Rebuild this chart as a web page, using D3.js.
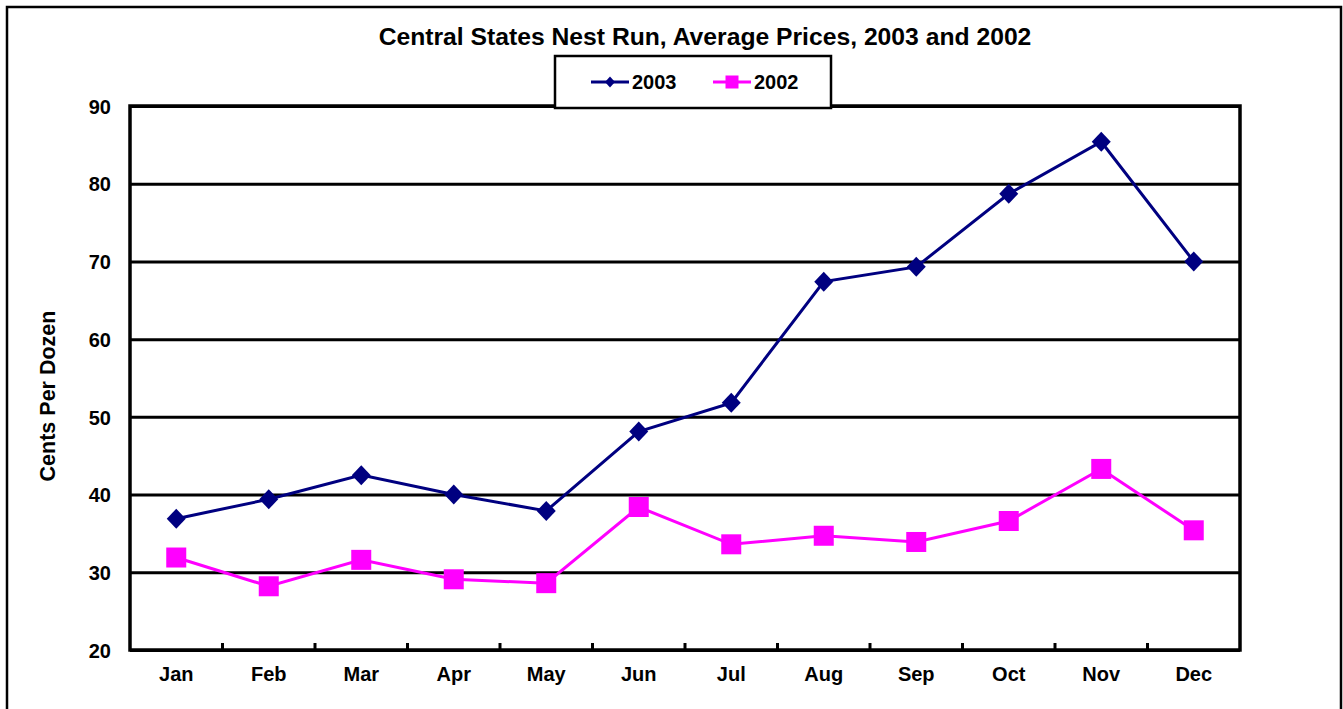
<!DOCTYPE html>
<html>
<head>
<meta charset="utf-8">
<script src="https://cdn.jsdelivr.net/npm/d3@7"></script>
<style>
  body { margin: 0; background: #fff; }
  svg text { font-family: "Liberation Sans", Arial, sans-serif; font-weight: bold; fill: #000; }
</style>
</head>
<body>
<div id="chart"></div>
<script>
var months = ["Jan","Feb","Mar","Apr","May","Jun","Jul","Aug","Sep","Oct","Nov","Dec"];
var prices2003 = [36.9, 39.4, 42.5, 40.0, 37.9, 48.1, 51.8, 67.4, 69.3, 78.7, 85.4, 70.0];
var prices2002 = [31.9, 28.2, 31.6, 29.1, 28.6, 38.4, 33.6, 34.7, 33.9, 36.6, 43.3, 35.4];
var yTicks = [20, 30, 40, 50, 60, 70, 80, 90];

var W = 1343, H = 709;
var margin = {top: 106, right: 103, bottom: 59, left: 130};
var pw = W - margin.left - margin.right;   // 1110
var ph = H - margin.top - margin.bottom;   // 544

var svg = d3.select("#chart").append("svg")
    .attr("width", W)
    .attr("height", H);

// outer frame (bottom edge runs off the picture)
svg.append("rect")
    .attr("x", 7).attr("y", 7)
    .attr("width", 1334).attr("height", 720)
    .attr("fill", "none")
    .attr("stroke", "#000")
    .attr("stroke-width", 2.5);

svg.append("text")
    .attr("x", 705).attr("y", 45)
    .attr("text-anchor", "middle")
    .style("font-size", "24.7px")
    .text("Central States Nest Run, Average Prices, 2003 and 2002");

var x = d3.scaleBand().domain(months).range([0, pw]);
var y = d3.scaleLinear().domain([20, 90]).range([ph, 0]);
var cx = function (m) { return x(m) + x.bandwidth() / 2; };

var g = svg.append("g")
    .attr("transform", "translate(" + margin.left + "," + margin.top + ")");

// gridlines
var grid = g.append("g")
    .call(d3.axisLeft(y).tickValues(yTicks).tickSize(-pw).tickFormat(""));
grid.select(".domain").remove();
grid.selectAll("line").attr("stroke", "#000").attr("stroke-width", 3);

// plot frame
g.append("rect")
    .attr("width", pw).attr("height", ph)
    .attr("fill", "none")
    .attr("stroke", "#000")
    .attr("stroke-width", 3.5);

// y labels
var yax = g.append("g")
    .call(d3.axisLeft(y).tickValues(yTicks).tickSize(0).tickPadding(19));
yax.select(".domain").remove();
yax.selectAll("text")
    .style("font-size", "20px")
    .style("font-family", "Liberation Sans, Arial, sans-serif")
    .attr("dy", "0.36em");

// x labels
var xax = g.append("g")
    .attr("transform", "translate(0," + ph + ")")
    .call(d3.axisBottom(x).tickSize(0).tickPadding(17));
xax.select(".domain").remove();
xax.selectAll("text")
    .style("font-size", "20px")
    .style("font-family", "Liberation Sans, Arial, sans-serif");

// inner ticks between categories
g.append("g").selectAll("line")
    .data(months.slice(1))
    .enter().append("line")
    .attr("x1", function (m) { return x(m); })
    .attr("x2", function (m) { return x(m); })
    .attr("y1", ph).attr("y2", ph - 7)
    .attr("stroke", "#000")
    .attr("stroke-width", 3);

svg.append("text")
    .attr("transform", "translate(55,396) rotate(-90)")
    .attr("text-anchor", "middle")
    .style("font-size", "21.5px")
    .text("Cents Per Dozen");

var line = d3.line()
    .x(function (d, i) { return cx(months[i]); })
    .y(function (d) { return y(d); });

var diamond = "M0,-10L9.5,0L0,10L-9.5,0Z";

// 2003 series
g.append("path")
    .datum(prices2003)
    .attr("d", line)
    .attr("fill", "none")
    .attr("stroke", "#000080")
    .attr("stroke-width", 3);
g.append("g").selectAll("path")
    .data(prices2003)
    .enter().append("path")
    .attr("d", diamond)
    .attr("transform", function (d, i) { return "translate(" + cx(months[i]) + "," + y(d) + ")"; })
    .attr("fill", "#000080");

// 2002 series
g.append("path")
    .datum(prices2002)
    .attr("d", line)
    .attr("fill", "none")
    .attr("stroke", "#FF00FF")
    .attr("stroke-width", 3);
g.append("g").selectAll("rect")
    .data(prices2002)
    .enter().append("rect")
    .attr("x", function (d, i) { return cx(months[i]) - 10; })
    .attr("y", function (d) { return y(d) - 10; })
    .attr("width", 20).attr("height", 20)
    .attr("fill", "#FF00FF");

// legend
var lg = svg.append("g");
lg.append("rect")
    .attr("x", 555).attr("y", 56)
    .attr("width", 276).attr("height", 52)
    .attr("fill", "#fff")
    .attr("stroke", "#000")
    .attr("stroke-width", 2.5);
lg.append("line")
    .attr("x1", 591).attr("x2", 629).attr("y1", 82).attr("y2", 82)
    .attr("stroke", "#000080").attr("stroke-width", 3);
lg.append("path")
    .attr("d", "M0,-5.5L5,0L0,5.5L-5,0Z")
    .attr("transform", "translate(610,82)")
    .attr("fill", "#000080");
lg.append("text")
    .attr("x", 632).attr("y", 89)
    .style("font-size", "20px")
    .text("2003");
lg.append("line")
    .attr("x1", 713).attr("x2", 751).attr("y1", 82).attr("y2", 82)
    .attr("stroke", "#FF00FF").attr("stroke-width", 3);
lg.append("rect")
    .attr("x", 725.5).attr("y", 75.5)
    .attr("width", 13).attr("height", 13)
    .attr("fill", "#FF00FF");
lg.append("text")
    .attr("x", 754).attr("y", 89)
    .style("font-size", "20px")
    .text("2002");
</script>
</body>
</html>
